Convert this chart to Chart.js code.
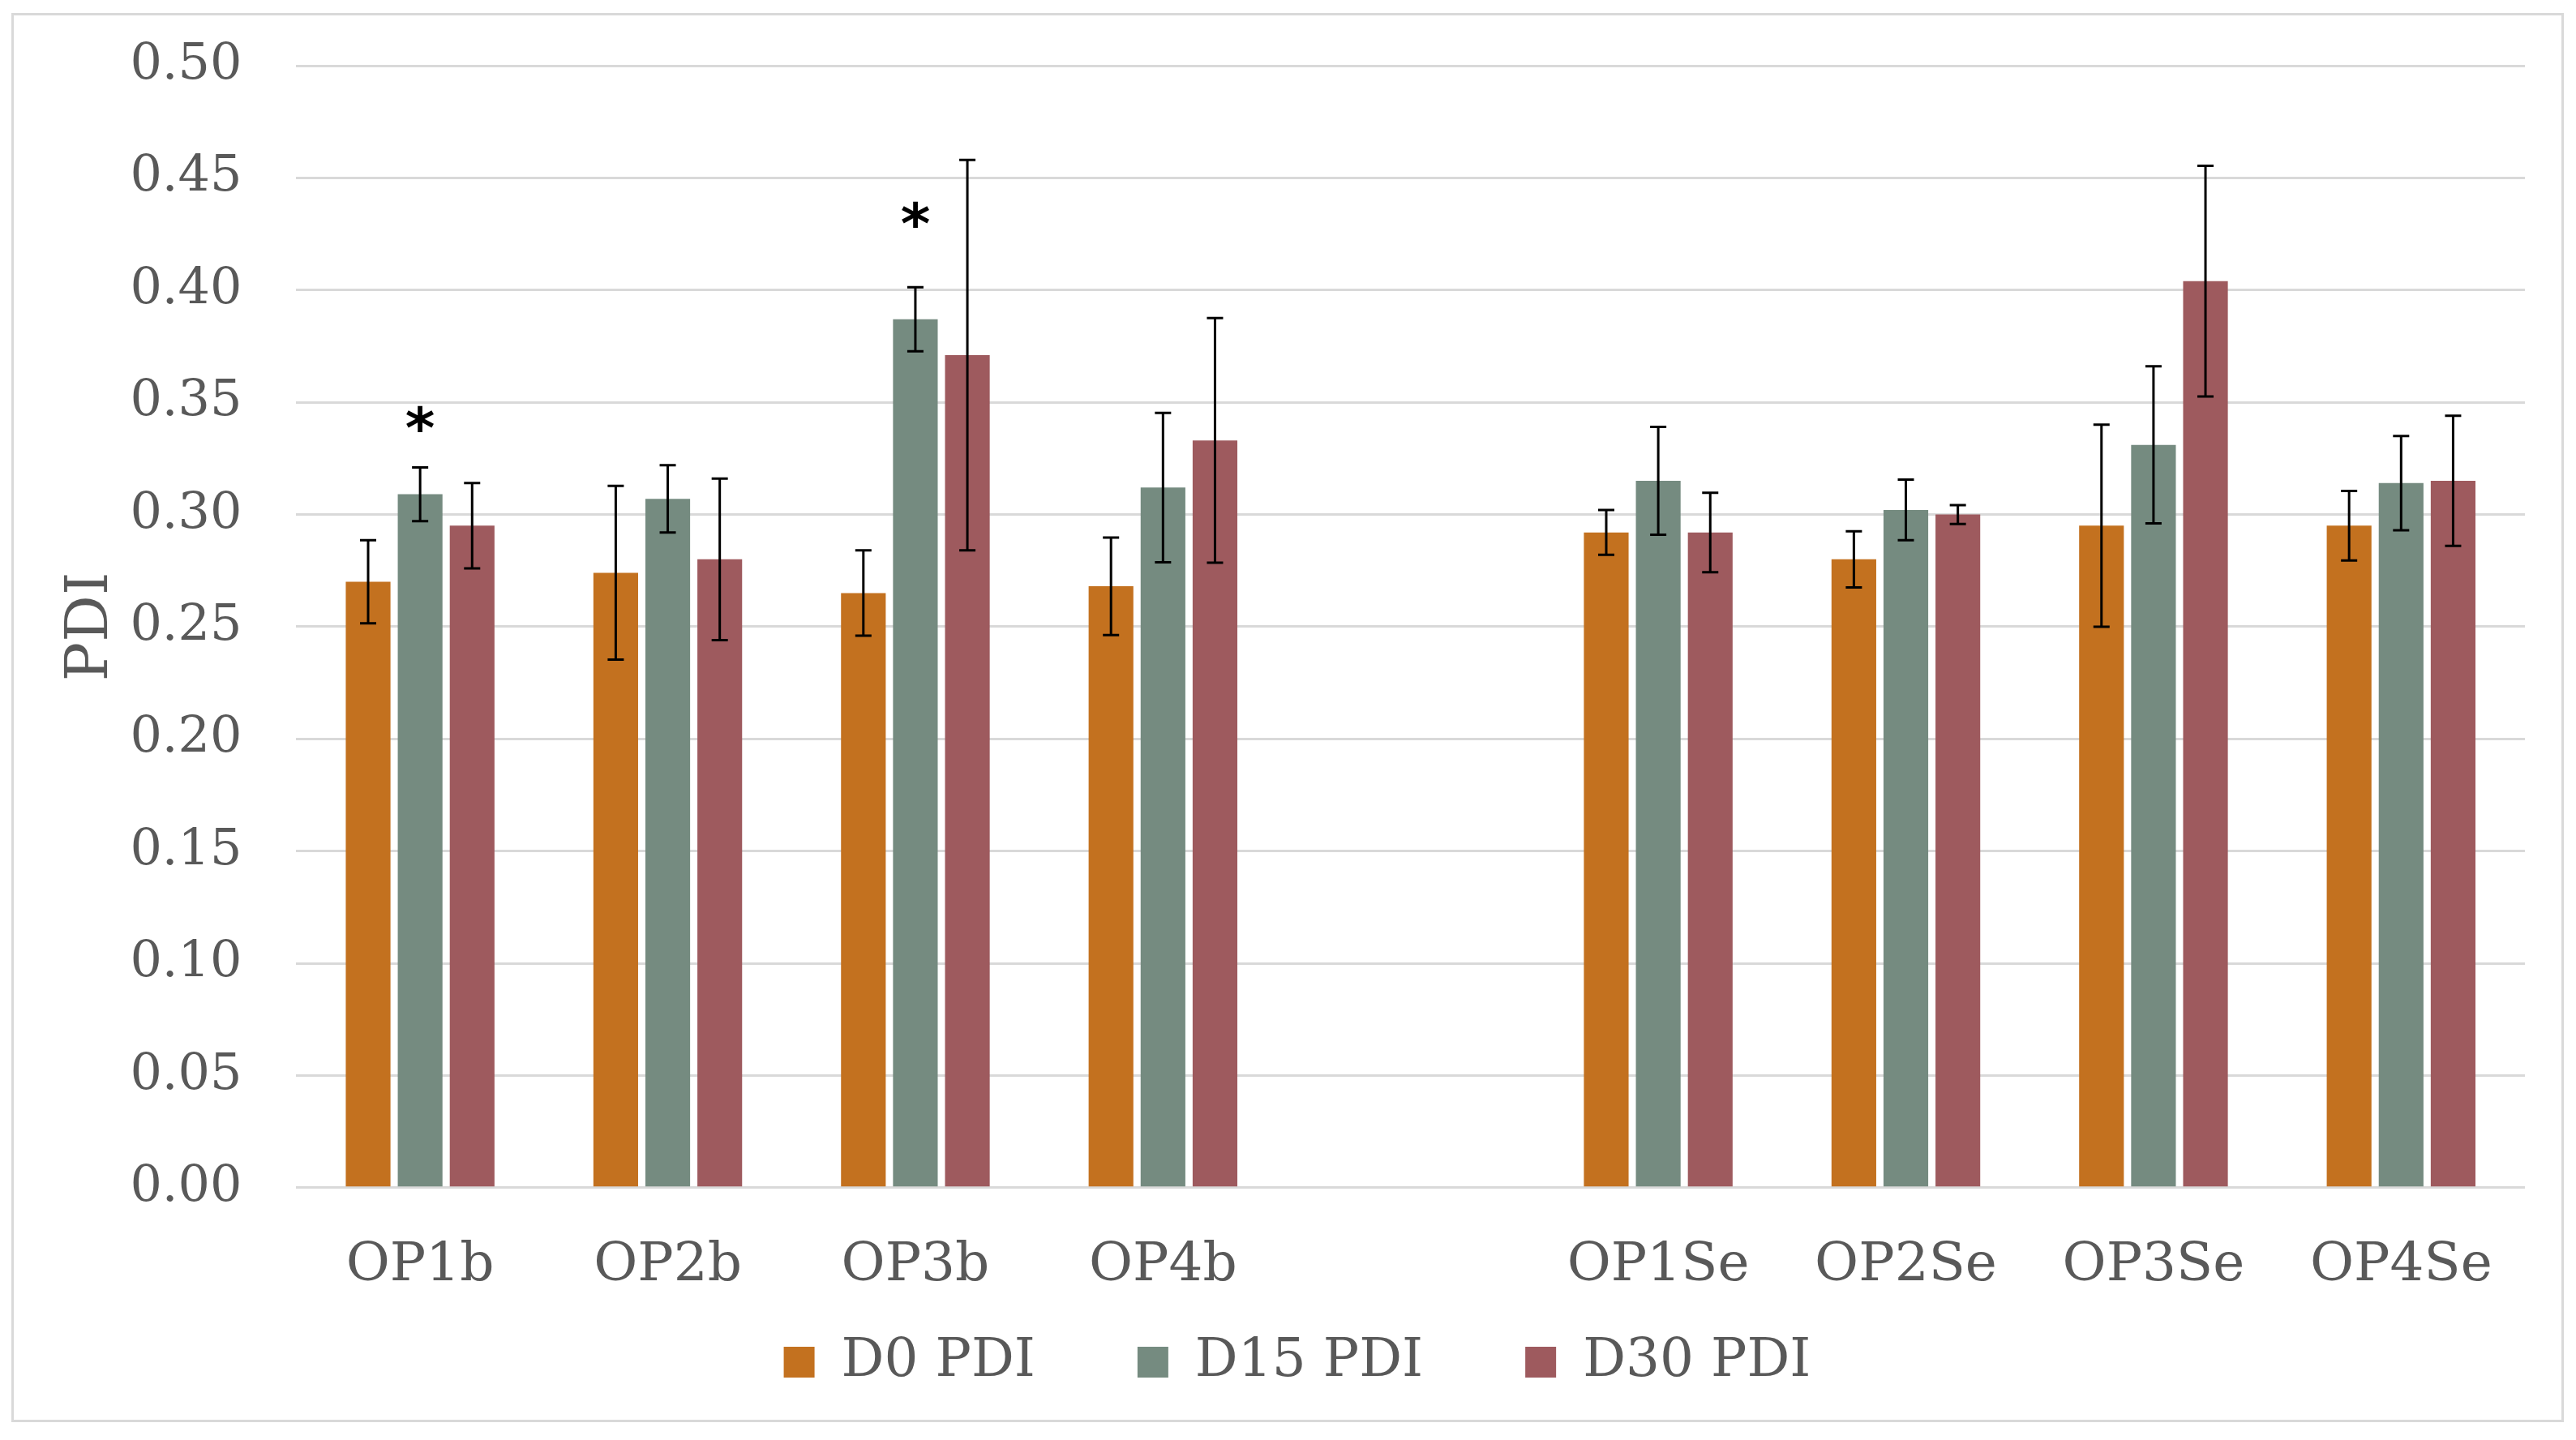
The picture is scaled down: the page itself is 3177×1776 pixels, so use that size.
<!DOCTYPE html>
<html>
<head>
<meta charset="utf-8">
<script src="https://cdn.jsdelivr.net/npm/chart.js@4"></script>
<style>
  html, body { margin: 0; padding: 0; background: #fff; }
  #box {
    position: absolute; left: 14px; top: 16px;
    width: 3142px; height: 1732px;
    border: 3px solid #d9d9d9; background: #fff;
  }
  #chart { display: block; }
</style>
</head>
<body>
<div id="box"><canvas id="chart" width="3142" height="1732"></canvas></div>
<script>
// Kategorien (leere Kategorie = Abstand zwischen b- und Se-Gruppe)
const labels = ['OP1b', 'OP2b', 'OP3b', 'OP4b', '', 'OP1Se', 'OP2Se', 'OP3Se', 'OP4Se'];

// Mittelwerte PDI
const d0  = [0.270, 0.274, 0.265, 0.268, null, 0.292, 0.280, 0.295, 0.295];
const d15 = [0.309, 0.307, 0.387, 0.312, null, 0.315, 0.302, 0.331, 0.314];
const d30 = [0.295, 0.280, 0.371, 0.333, null, 0.292, 0.300, 0.404, 0.315];

// Fehlerbalken (+/-)
const err0  = [0.0185, 0.0387, 0.019, 0.0217, null, 0.010, 0.0125, 0.045, 0.0155];
const err15 = [0.012, 0.015, 0.0143, 0.0333, null, 0.024, 0.0135, 0.035, 0.021];
const err30 = [0.019, 0.036, 0.087, 0.0545, null, 0.0177, 0.0042, 0.0514, 0.029];

// Signifikanz-Sternchen: Kategorie, Serie, Höhe (Wert)
const sigLabels = ['OP1b', 'OP3b'];
const sigSeries = [1, 1];
const sigY = [0.343, 0.434];

const yTicks = [0, 0.05, 0.10, 0.15, 0.20, 0.25, 0.30, 0.35, 0.40, 0.45, 0.50];

const serif = "'DejaVu Serif', serif";
const LEGEND_UP = 129;   // Legende vertikal näher an die x-Achse
const LEGEND_DX = 10;    // kleine horizontale Verschiebung wie im Original

// Fehlerbalken + Sternchen zeichnen
const errorBars = {
  id: 'errorBars',
  afterDatasetsDraw(chart) {
    const ctx = chart.ctx;
    const y = chart.scales.y;
    ctx.save();
    ctx.strokeStyle = '#000';
    ctx.lineWidth = 3;
    chart.data.datasets.forEach((ds, i) => {
      const meta = chart.getDatasetMeta(i);
      meta.data.forEach((bar, j) => {
        const v = ds.data[j], e = ds.errors[j];
        if (v == null || e == null) return;
        const top = y.getPixelForValue(v + e);
        const bot = y.getPixelForValue(v - e);
        const cap = 10;
        ctx.beginPath();
        ctx.moveTo(bar.x, top); ctx.lineTo(bar.x, bot);
        ctx.moveTo(bar.x - cap, top); ctx.lineTo(bar.x + cap, top);
        ctx.moveTo(bar.x - cap, bot); ctx.lineTo(bar.x + cap, bot);
        ctx.stroke();
      });
    });
    // Sternchen
    ctx.fillStyle = '#000';
    ctx.font = "bold 70px 'DejaVu Sans', sans-serif";
    ctx.textAlign = 'center';
    ctx.textBaseline = 'middle';
    sigLabels.forEach((lab, k) => {
      const idx = chart.data.labels.indexOf(lab);
      const bar = chart.getDatasetMeta(sigSeries[k]).data[idx];
      ctx.fillText('*', bar.x, y.getPixelForValue(sigY[k]) + 18);
    });
    ctx.restore();
  }
};

// Legende: weniger Höhe im Layout, Einträge entsprechend höher zeichnen
const legendShift = {
  id: 'legendShift',
  beforeInit(chart) {
    const lg = chart.legend;
    const fit = lg.fit;
    lg.fit = function () { fit.call(this); this.height -= LEGEND_UP; };
    const draw = lg.draw;
    lg.draw = function () {
      const t = this.top;
      this.top = t - LEGEND_UP;
      this.ctx.save();
      this.ctx.translate(LEGEND_DX, 0);
      draw.call(this);
      this.ctx.restore();
      this.top = t;
    };
  }
};

new Chart(document.getElementById('chart'), {
  type: 'bar',
  data: {
    labels: labels,
    datasets: [
      { label: 'D0 PDI',  data: d0,  errors: err0,  backgroundColor: '#c3711f' },
      { label: 'D15 PDI', data: d15, errors: err15, backgroundColor: '#758b80' },
      { label: 'D30 PDI', data: d30, errors: err30, backgroundColor: '#9e5a5e' }
    ]
  },
  options: {
    responsive: false,
    animation: false,
    events: [],
    layout: { padding: { left: 49, right: 45, top: 62, bottom: 28 } },
    datasets: { bar: { categoryPercentage: 0.63, barPercentage: 0.86 } },
    scales: {
      x: {
        grid: { display: false },
        border: { display: false },
        ticks: { color: '#595959', font: { family: serif, size: 66 }, padding: 49, maxRotation: 0 }
      },
      y: {
        min: 0, max: 0.5,
        afterBuildTicks: axis => { axis.ticks = yTicks.map(v => ({ value: v })); },
        grid: { color: '#d9d9d9', lineWidth: 3, drawTicks: false },
        border: { display: false },
        ticks: {
          color: '#595959', font: { family: serif, size: 62 }, padding: 67,
          callback: v => v.toFixed(2)
        },
        title: { display: true, text: 'PDI', color: '#595959', font: { family: serif, size: 72 }, padding: { top: 4, bottom: 4 } },
        afterFit: axis => {
          axis.width -= 67;
          axis.paddingTop = 38;
          axis.paddingBottom = 38;
        }
      }
    },
    plugins: {
      legend: {
        position: 'bottom',
        labels: {
          color: '#595959', font: { family: serif, size: 66 },
          boxWidth: 38, boxHeight: 38, padding: 126
        }
      },
      tooltip: { enabled: false }
    }
  },
  plugins: [errorBars, legendShift]
});
</script>
</body>
</html>
